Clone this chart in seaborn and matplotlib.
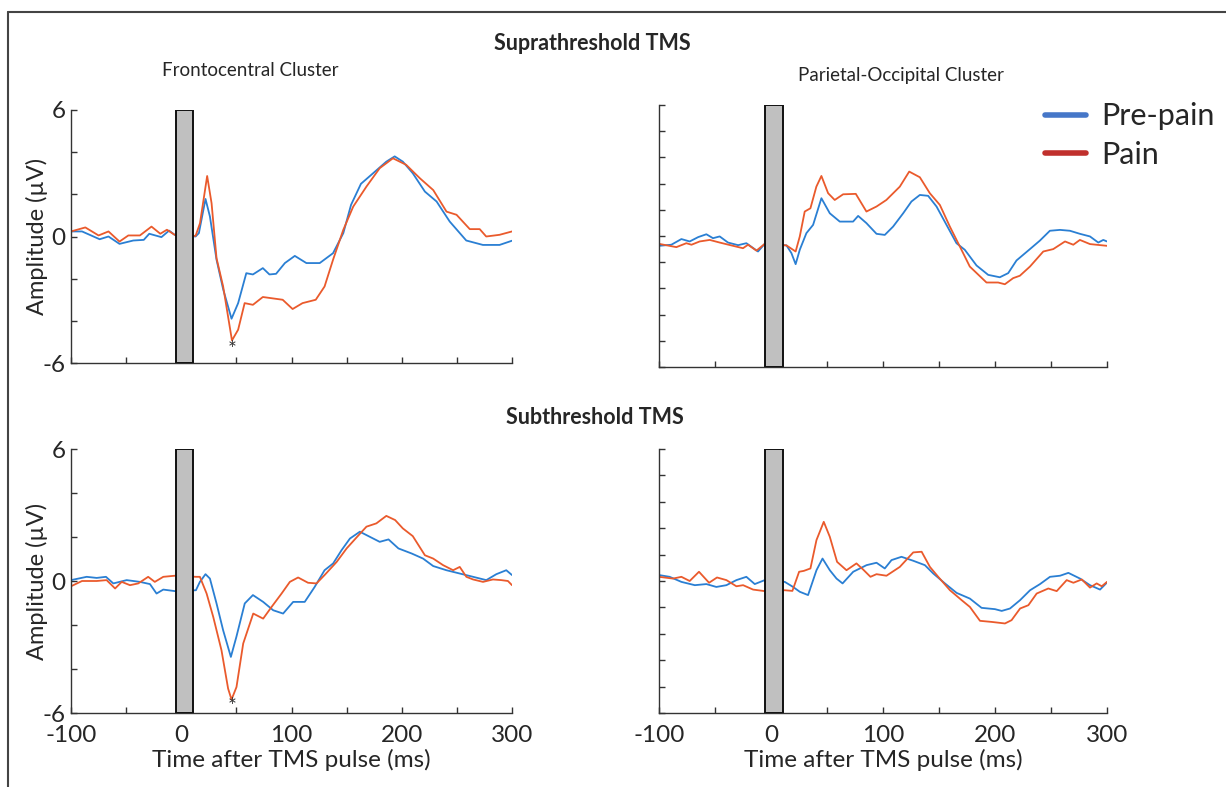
import numpy as np
import pandas as pd
import matplotlib
matplotlib.use("Agg")
import matplotlib.pyplot as plt
from matplotlib.lines import Line2D
from matplotlib.ticker import FixedLocator, FixedFormatter
import seaborn as sns

# ---------------- data ----------------
conditions = ["Pre-pain", "Pain"]
panels = ["supra_fc", "supra_po", "sub_fc", "sub_po"]

# Suprathreshold, Frontocentral
t_supra_fc_pre = [-100, -90, -74, -66, -56, -43.5, -34, -29, -18, -11, -6, 13, 16, 22, 26, 32, 38, 45.6, 51.6, 59, 65, 74, 80, 86, 94, 103, 113.5, 125.6, 137.7, 147, 154, 163, 174, 186, 193.6, 201, 210, 221, 231.6, 243.5, 258.5, 273.6, 288.7, 300]
v_supra_fc_pre = [0.24, 0.24, -0.13, 0.0, -0.35, -0.19, -0.16, 0.13, -0.03, 0.28, 0.08, 0.0, 0.16, 1.78, 0.95, -1.1, -2.5, -3.9, -3.16, -1.74, -1.8, -1.5, -1.8, -1.77, -1.26, -0.92, -1.26, -1.26, -0.79, 0.16, 1.5, 2.5, 3.0, 3.55, 3.8, 3.55, 3.0, 2.13, 1.66, 0.71, -0.19, -0.4, -0.4, -0.2]
t_supra_fc_pain = [-100, -87, -75, -66, -56, -48, -37.5, -27, -19, -13, -6, 13, 17, 23.5, 27.5, 32, 38, 46, 51.6, 57.5, 65, 74, 92, 101, 110, 122, 130, 137.7, 147, 156, 168, 180, 192, 204, 216.5, 228.6, 240.6, 249.7, 261.7, 270.7, 276.6, 288.7, 300]
v_supra_fc_pain = [0.24, 0.43, 0.05, 0.24, -0.24, 0.05, 0.05, 0.47, 0.13, 0.32, 0.08, 0.03, 0.63, 2.87, 1.58, -1.03, -2.37, -4.93, -4.42, -3.16, -3.24, -2.87, -3.0, -3.44, -3.16, -3.0, -2.37, -1.1, 0.32, 1.42, 2.37, 3.24, 3.71, 3.4, 2.76, 2.2, 1.18, 1.03, 0.35, 0.35, 0.0, 0.08, 0.24]

# Suprathreshold, Parietal-Occipital
t_supra_po_pre = [-100, -89, -80, -72.6, -65, -57.7, -51.8, -45.8, -38.4, -29.4, -22, -11.6, -5.6, 13.8, 18.2, 22, 25.7, 31.6, 37.6, 45, 52.5, 61.4, 73.3, 77.8, 85.2, 94.2, 101.6, 109, 118, 125.4, 132.9, 140.3, 147.8, 156.7, 165.6, 173, 183.5, 193.9, 204.3, 211.8, 219.2, 231.2, 240.1, 249, 258, 266.9, 275.8, 284.8, 292.2, 296.7, 300]
v_supra_po_pre = [-0.45, -0.4, -0.14, -0.25, -0.05, 0.08, -0.1, -0.02, -0.3, -0.42, -0.33, -0.71, -0.36, -0.43, -0.78, -1.29, -0.63, 0.13, 0.51, 1.73, 1.04, 0.66, 0.66, 0.92, 0.59, 0.1, 0.05, 0.43, 1.04, 1.58, 1.88, 1.84, 1.35, 0.51, -0.33, -0.63, -1.35, -1.78, -1.89, -1.7, -1.12, -0.6, -0.21, 0.24, 0.28, 0.24, 0.1, -0.02, -0.3, -0.18, -0.25]
t_supra_po_pain = [-100, -84.5, -75.6, -71, -63.7, -54.7, -45.8, -33.9, -25, -20.5, -13, -5.6, 13.8, 22, 25.7, 30.1, 35.2, 40.5, 45, 51, 56.9, 64.4, 75.7, 85.2, 94.2, 103, 115, 123.4, 132.9, 141.8, 150.8, 159.7, 168.6, 177.5, 192.4, 202.8, 208.8, 216.2, 222.2, 231.2, 243.1, 252, 262.5, 269.9, 275.8, 284.8, 300]
v_supra_po_pain = [-0.36, -0.51, -0.33, -0.4, -0.25, -0.18, -0.3, -0.45, -0.56, -0.4, -0.67, -0.36, -0.43, -0.71, -0.02, 1.12, 1.27, 2.26, 2.75, 1.96, 1.65, 1.91, 1.93, 1.12, 1.35, 1.65, 2.26, 2.95, 2.69, 1.96, 1.42, 0.43, -0.48, -1.4, -2.13, -2.13, -2.21, -1.93, -1.82, -1.4, -0.71, -0.6, -0.25, -0.4, -0.18, -0.37, -0.45]

# Subthreshold, Frontocentral
t_sub_fc_pre = [-100, -85.8, -76.7, -68.3, -61.6, -49.5, -37.5, -28.4, -22.4, -16.3, -5.7, 13.3, 16.9, 22, 26, 32, 38, 45, 50, 57.6, 65, 74.3, 83.4, 92.4, 101.5, 112, 121, 130, 137.8, 145.4, 153, 162, 171, 180, 188, 197, 209, 219.3, 228.5, 240.5, 252.6, 264.7, 276.7, 285.8, 294.8, 300]
v_sub_fc_pre = [0.04, 0.19, 0.14, 0.19, -0.11, 0.04, -0.04, -0.14, -0.57, -0.39, -0.46, -0.42, -0.04, 0.31, 0.11, -1.02, -2.24, -3.45, -2.54, -1.02, -0.64, -0.95, -1.33, -1.48, -0.95, -0.95, -0.27, 0.49, 0.8, 1.4, 1.93, 2.24, 2.01, 1.78, 1.89, 1.48, 1.25, 1.02, 0.68, 0.49, 0.34, 0.19, 0.04, 0.31, 0.49, 0.27]
t_sub_fc_pain = [-100, -90, -76.7, -67.7, -60, -54, -46.5, -39, -30, -24, -16.3, -5.7, 13.3, 16.9, 23, 29, 36.5, 42.5, 45.6, 50.1, 56.2, 65.3, 74.3, 81.9, 91, 98.5, 106, 115, 122.7, 130, 141, 150, 159, 168, 177, 186, 194, 201, 210, 221, 228.5, 237.5, 246.6, 252.6, 258.6, 264.7, 273.7, 282.7, 290.3, 296.3, 300]
v_sub_fc_pain = [-0.24, 0.0, 0.0, 0.04, -0.34, -0.04, -0.19, -0.11, 0.19, -0.04, 0.19, 0.24, 0.19, 0.19, -0.57, -1.63, -3.15, -4.89, -5.39, -4.82, -2.84, -1.48, -1.71, -1.18, -0.57, -0.04, 0.16, -0.08, -0.11, 0.27, 0.87, 1.48, 1.98, 2.47, 2.62, 2.96, 2.77, 2.39, 2.04, 1.17, 1.02, 0.72, 0.49, 0.64, 0.19, 0.07, -0.04, 0.07, 0.04, 0.0, -0.19]

# Subthreshold, Parietal-Occipital
t_sub_po_pre = [-100, -90.5, -80, -68, -57.7, -48.8, -39.8, -30.9, -22, -14.5, -5.6, 12.3, 19.7, 25.7, 33.1, 40.6, 46, 52.5, 58.5, 63.9, 73.4, 85.3, 94.2, 101.6, 107.6, 116.5, 127, 137.4, 144.9, 155.3, 165.7, 177.6, 188, 200, 206, 213.4, 222.4, 231.3, 240.2, 249.1, 258.1, 265.5, 275.9, 284.8, 293.8, 300]
v_sub_po_pre = [0.27, 0.19, -0.04, -0.19, -0.14, -0.27, -0.19, 0.04, 0.19, -0.14, 0.04, -0.04, -0.27, -0.49, -0.64, 0.49, 1.02, 0.49, 0.11, -0.11, 0.42, 0.72, 0.83, 0.57, 0.95, 1.1, 0.92, 0.72, 0.34, -0.11, -0.54, -0.8, -1.22, -1.28, -1.36, -1.25, -0.87, -0.42, -0.14, 0.19, 0.24, 0.37, 0.11, -0.19, -0.39, -0.07]
t_sub_po_pain = [-100, -87.5, -80, -72.6, -64.3, -55.3, -48.2, -39.8, -30.9, -24.9, -16, -5.6, 12.3, 19.1, 25.1, 29.3, 35.2, 40.6, 47.1, 52.5, 59, 67.4, 76.3, 82.3, 88.8, 94.2, 103.1, 115, 127, 134.5, 141.9, 149.3, 159.8, 170.2, 177.6, 186.6, 197, 208.9, 214.8, 222.4, 229.8, 237.2, 247.6, 255.1, 264, 270, 277.5, 284.8, 290.8, 295.3, 300]
v_sub_po_pain = [0.19, 0.11, 0.19, 0.0, 0.42, -0.08, 0.16, 0.04, -0.24, -0.19, -0.39, -0.46, -0.42, -0.45, 0.42, 0.46, 0.57, 1.86, 2.69, 2.01, 0.87, 0.49, 0.8, 0.52, 0.19, 0.31, 0.24, 0.64, 1.3, 1.33, 0.64, 0.19, -0.42, -0.87, -1.18, -1.81, -1.86, -1.93, -1.78, -1.25, -1.1, -0.57, -0.34, -0.46, 0.04, -0.08, 0.07, -0.3, -0.11, -0.24, -0.04]

panel_titles = {"supra_fc": "Frontocentral Cluster", "supra_po": "Parietal-Occipital Cluster"}
row_titles = ["Suprathreshold TMS", "Subthreshold TMS"]
x_tick_values = [-100, 0, 100, 200, 300]
y_label_values = [-6, 0, 6]
pulse_window = (-5, 11)
star_time = 46

series = {
    ("supra_fc", "Pre-pain"): (t_supra_fc_pre, v_supra_fc_pre),
    ("supra_fc", "Pain"): (t_supra_fc_pain, v_supra_fc_pain),
    ("supra_po", "Pre-pain"): (t_supra_po_pre, v_supra_po_pre),
    ("supra_po", "Pain"): (t_supra_po_pain, v_supra_po_pain),
    ("sub_fc", "Pre-pain"): (t_sub_fc_pre, v_sub_fc_pre),
    ("sub_fc", "Pain"): (t_sub_fc_pain, v_sub_fc_pain),
    ("sub_po", "Pre-pain"): (t_sub_po_pre, v_sub_po_pre),
    ("sub_po", "Pain"): (t_sub_po_pain, v_sub_po_pain),
}
rows = []
for (p, c), (tt, vv) in series.items():
    for t, v in zip(tt, vv):
        rows.append({"panel": p, "condition": c, "time": t, "amp": v})
df = pd.DataFrame(rows)

# ---------------- style ----------------
sns.set_theme(style="white")
plt.rcParams["font.family"] = ["Lato", "DejaVu Sans"]
line_palette = {"Pre-pain": "#2a7fd3", "Pain": "#ea5a2c"}
legend_colors = {"Pre-pain": "#4677c8", "Pain": "#c0302c"}

fig = plt.figure(figsize=(12.26, 7.87), dpi=100)
W, H = 1226, 787

def axes_px(x0, x1, y0, y1):
    return fig.add_axes([x0 / W, 1 - y1 / H, (x1 - x0) / W, (y1 - y0) / H])

axes = {
    "supra_fc": axes_px(71, 512, 110, 363),
    "supra_po": axes_px(659, 1107, 105, 367),
    "sub_fc": axes_px(71, 512, 449, 713),
    "sub_po": axes_px(659, 1107, 449, 713),
}

for p, ax in axes.items():
    sub = df[df.panel == p]
    sns.lineplot(data=sub, x="time", y="amp", hue="condition", hue_order=conditions,
                 palette=line_palette, estimator=None, sort=False, lw=1.3, ax=ax, legend=False)
    ax.set_xlim(-100, 300)
    ax.set_ylim(-6, 6)
    ax.axvspan(pulse_window[0], pulse_window[1], ymin=0, ymax=1, facecolor="#c0c0c0",
               edgecolor="#111111", lw=1.4, zorder=5)
    for s in ["top", "right"]:
        ax.spines[s].set_visible(False)
    for s in ["left", "bottom"]:
        ax.spines[s].set_color("#333333")
        ax.spines[s].set_linewidth(1.0)
    ax.set_xlabel("")
    ax.set_ylabel("")
    ax.xaxis.set_major_locator(FixedLocator(list(range(-100, 301, 50))))
    is_bottom = p.startswith("sub")
    is_left = p.endswith("fc")
    ax.tick_params(axis="both", direction="in", length=4, width=1, color="#333333",
                   labelsize=17.5, left=True, bottom=True)
    ax.tick_params(axis="x", pad=9)
    ax.tick_params(axis="y", pad=4)
    if is_bottom:
        ax.xaxis.set_major_formatter(FixedFormatter([str(v) if v in x_tick_values else "" for v in range(-100, 301, 50)]))
        ax.set_xlabel("Time after TMS pulse (ms)", fontsize=17.5, labelpad=2)
    else:
        ax.set_xticklabels([])
    if is_left:
        yt = list(range(-6, 7, 2))
        ax.yaxis.set_major_locator(FixedLocator(yt))
        ax.yaxis.set_major_formatter(FixedFormatter([str(v) if v in y_label_values else "" for v in yt]))
        ax.set_ylabel("Amplitude (µV)", fontsize=17, labelpad=-4)
    else:
        ax.yaxis.set_major_locator(FixedLocator(list(np.linspace(-6, 6, 11))))
        ax.set_yticklabels([])
    ax.set_facecolor("white")
    ax.patch.set_alpha(0)

axes["supra_fc"].text(star_time, -5.4, "*", ha="center", va="center", fontsize=15, color="#333333", zorder=6)
axes["sub_fc"].text(star_time, -5.75, "*", ha="center", va="center", fontsize=15, color="#333333", zorder=6)

# titles
fig.text(592 / W, 1 - 44 / H, row_titles[0], ha="center", va="center", fontsize=15.5, fontweight="bold")
fig.text(595 / W, 1 - 418 / H, row_titles[1], ha="center", va="center", fontsize=15.5, fontweight="bold")
fig.text(250 / W, 1 - 71 / H, panel_titles["supra_fc"], ha="center", va="center", fontsize=13.5)
fig.text(901 / W, 1 - 75 / H, panel_titles["supra_po"], ha="center", va="center", fontsize=13.5)

# legend
handles = [Line2D([0], [0], color=legend_colors[c], lw=4) for c in conditions]
leg = fig.legend(handles, conditions, loc="upper left", bbox_to_anchor=(1033 / W, 1 - 90 / H),
                 frameon=False, fontsize=22, handlelength=1.35, handletextpad=0.5, labelspacing=0.35,
                 borderaxespad=0.0)

# outer frame (top and left edges)
fig.add_artist(Line2D([8 / W, 8 / W], [0, 1 - 12 / H], color="#444444", lw=1.5, transform=fig.transFigure))
fig.add_artist(Line2D([8 / W, 1], [1 - 12 / H, 1 - 12 / H], color="#444444", lw=1.5, transform=fig.transFigure))

fig.savefig("out.png", dpi=100, facecolor="white")
